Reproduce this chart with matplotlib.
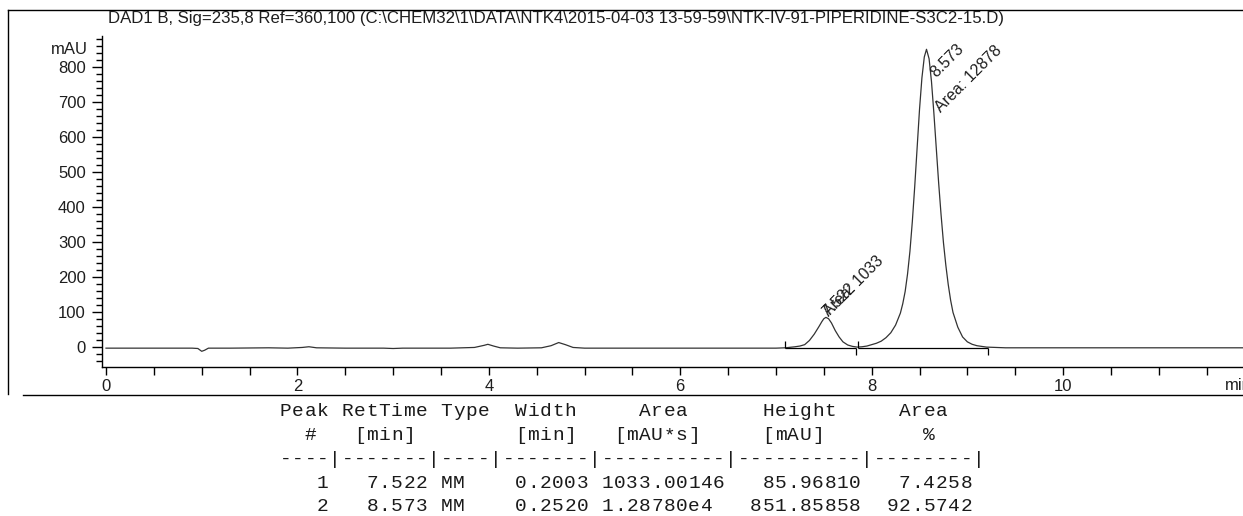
import matplotlib
matplotlib.use("Agg")
import matplotlib.pyplot as plt
from matplotlib.lines import Line2D
from matplotlib.ticker import MultipleLocator, FuncFormatter

# trace (time in min, signal in mAU)
time_min = [
    0.00, 0.90, 0.96, 1.00, 1.03, 1.07, 1.30, 1.70, 1.90, 2.05, 2.12, 2.20,
    2.50, 2.90, 3.00, 3.10, 3.60, 3.85, 3.95, 3.99, 4.05, 4.12, 4.30, 4.55,
    4.65, 4.73, 4.80, 4.88, 5.00, 6.00, 7.00,
    7.10, 7.20, 7.25, 7.30, 7.35, 7.40, 7.45, 7.48, 7.50, 7.522, 7.55, 7.58,
    7.62, 7.66, 7.70, 7.75, 7.80, 7.85,
    7.90, 7.95, 8.00, 8.05, 8.10, 8.15, 8.20, 8.25, 8.30, 8.325, 8.35, 8.375,
    8.40, 8.425, 8.45, 8.475, 8.50, 8.525, 8.55, 8.573, 8.60, 8.625, 8.65,
    8.675, 8.70, 8.725, 8.75, 8.775, 8.80, 8.825, 8.85, 8.90, 8.95, 9.00,
    9.05, 9.10, 9.20, 9.40, 10.00, 11.00, 11.90,
]
signal_mau = [
    -2, -2, -3, -11, -8, -2, -2, -1, -2, 0, 2, -1,
    -2, -2, -3, -2, -2, 0, 6, 9, 4, -1, -2, -1,
    5, 14, 8, 0, -2, -2, -2,
    -1, 2, 4, 8, 20, 38, 60, 74, 82, 86, 82, 70,
    48, 30, 16, 7, 3, 1,
    2, 4, 8, 12, 18, 28, 42, 64, 98, 125, 160, 210,
    275, 360, 460, 570, 680, 770, 830, 852, 825, 760, 670,
    570, 470, 380, 300, 235, 180, 135, 100, 58, 30, 16,
    9, 5, 1, -1, -1, -1, -1,
]

# integration baselines
base_start = [7.09, 7.86]
base_end = [7.84, 9.22]

# peak annotations
peak_rt = ["7.522", "8.573"]
peak_area = ["Area: 1033", "Area: 12878"]

title = r"DAD1 B, Sig=235,8 Ref=360,100 (C:\CHEM32\1\DATA\NTK4\2015-04-03 13-59-59\NTK-IV-91-PIPERIDINE-S3C2-15.D)"

table_lines = [
    "Peak RetTime Type  Width     Area      Height     Area",
    "  #   [min]        [min]   [mAU*s]     [mAU]        %",
    "----|-------|----|-------|----------|----------|--------|",
    "   1   7.522 MM    0.2003 1033.00146   85.96810   7.4258",
    "   2   8.573 MM    0.2520 1.28780e4   851.85858  92.5742",
]

W, H = 1243, 516
SANS = "Liberation Sans"
MONO = "Liberation Mono"
ink = "#1e1e1e"

fig = plt.figure(figsize=(W / 100, H / 100), dpi=100)
ax = fig.add_axes([101.7 / W, 1 - 366.7 / H, (W - 101.7) / W, (366.7 - 36) / H])

ax.plot(time_min, signal_mau, color="#333333", lw=0.9)

# baseline segments with start/end markers
ax.hlines([-1] * len(base_start), base_start, base_end, color="k", lw=0.9)
ax.vlines(base_start, -1, 19, color="k", lw=0.9)
ax.vlines(base_end, -21, -1, color="k", lw=0.9)

lab = dict(rotation=45, rotation_mode="anchor", ha="left", va="baseline",
           fontsize=11.5, family=SANS, color=ink)
ax.text(7.55, 88, peak_rt[0], **lab)
ax.text(7.55, 88, peak_area[0], **lab)
ax.text(8.67, 770, peak_rt[1], **lab)
ax.text(8.72, 670, peak_area[1], **lab)

ax.set_xlim(-0.045, 11.88)
ax.set_ylim(-55, 890)

for side in ["top", "right"]:
    ax.spines[side].set_visible(False)
for side in ["left", "bottom"]:
    ax.spines[side].set_linewidth(1.0)
    ax.spines[side].set_color("k")

ax.xaxis.set_major_locator(MultipleLocator(0.5))
ax.xaxis.set_major_formatter(FuncFormatter(
    lambda v, p: f"{int(round(v))}" if abs(v / 2 - round(v / 2)) < 1e-6 else ""))
ax.yaxis.set_major_locator(MultipleLocator(100))
ax.yaxis.set_minor_locator(MultipleLocator(20))

ax.tick_params(axis="x", direction="out", length=6, width=1, pad=3,
               labelsize=12, labelcolor=ink)
ax.tick_params(axis="y", which="major", direction="out", length=7, width=1,
               pad=4.5, labelsize=12, labelcolor=ink)
ax.tick_params(axis="y", which="minor", direction="out", length=4, width=1)
for t in ax.get_xticklabels() + ax.get_yticklabels():
    t.set_family(SANS)

fig.text(88 / W, 1 - 49 / H, "mAU", ha="right", va="center",
         fontsize=12, family=SANS, color=ink)
# the unit label runs off the right edge, as in the report
fig.text(1225 / W, 1 - 386 / H, "min", ha="left", va="center",
         fontsize=12, family=SANS, color=ink)

fig.text(108 / W, 1 - 23.5 / H, title, ha="left", va="baseline",
         fontsize=12.1, family=SANS, color=ink)

# frame lines of the report
frame = dict(color="k", lw=1.0, transform=fig.transFigure)
fig.add_artist(Line2D([8.3 / W, 1], [1 - 10 / H, 1 - 10 / H], **frame))
fig.add_artist(Line2D([8.3 / W, 8.3 / W], [1 - 10 / H, 1 - 394 / H], **frame))
fig.add_artist(Line2D([22.7 / W, 1], [1 - 395 / H, 1 - 395 / H], **frame))

# peak table, one character per fixed-width cell
x0, cw = 279.3, 12.38
baselines = [416.5, 440, 463.5, 487.5, 511]
for line, yb in zip(table_lines, baselines):
    for i, ch in enumerate(line):
        if ch == " ":
            continue
        fig.text((x0 + (i + 0.5) * cw) / W, 1 - yb / H, ch, ha="center",
                 va="baseline", fontsize=14, family=MONO, color="#1a1a1a")

fig.savefig("out.png", dpi=100)
